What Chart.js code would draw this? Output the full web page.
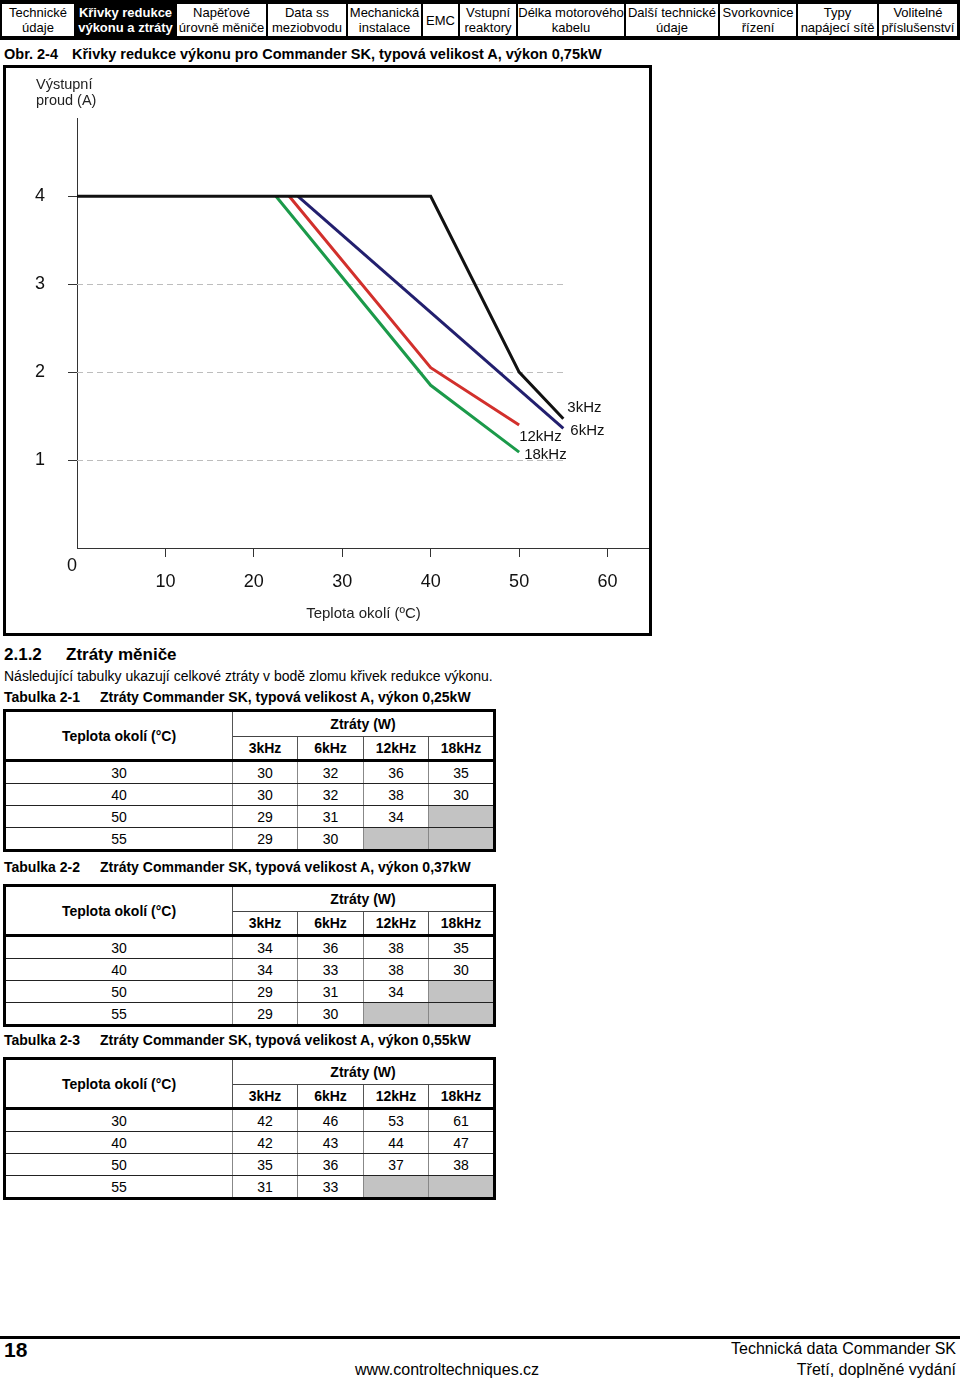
<!DOCTYPE html>
<html lang="cs">
<head>
<meta charset="UTF-8">
<title>Křivky redukce výkonu a ztráty</title>
<script src="https://cdn.jsdelivr.net/npm/chart.js"></script>
<style>
    body { margin: 0; width: 960px; height: 1382px; position: relative; overflow: hidden; background: #fff; color: #000; font-family: 'Liberation Sans', Arial, sans-serif; }
    .abs { position: absolute; white-space: nowrap; }
    .nav { position: absolute; left: 0; top: 0; width: 960px; height: 40px; background: #000; }
    .nav div { position: absolute; top: 4px; height: 32px; background: #fff; font-size: 13px; line-height: 15px; text-align: center; display: flex; align-items: center; justify-content: center; }
    .nav div.on { background: #000; color: #fff; font-weight: bold; }
    .frame { position: absolute; left: 3px; top: 65px; width: 649px; height: 571px; box-sizing: border-box; border: 3px solid #000; z-index: 2; pointer-events: none; }
    .chartbox { position: absolute; left: 0; top: 66px; width: 651px; height: 569px; z-index: 1; }
    .ytitle { position: absolute; left: 36px; top: 76px; font-size: 14.5px; line-height: 16px; color: #222; z-index: 3; }
    .cap { font-size: 14px; font-weight: bold; }
    table.loss { position: absolute; left: 3px; width: 490px; border-collapse: collapse; border: 3px solid #000; font-size: 14px; table-layout: fixed; }
    table.loss th, table.loss td { text-align: center; padding: 0; }
    table.loss th { font-weight: bold; }
    table.loss tr.h1 th { height: 24px; }
    table.loss tr.h2 th { height: 22px; border-left: 1px solid #555; border-top: 1px solid #444; border-bottom: 3px solid #000; }
    table.loss th.first { border-right: 1px solid #555; border-bottom: 3px solid #000; }
    table.loss td { height: 21px; border-bottom: 1px solid #222; }
    table.loss td + td { border-left: 1px solid #888; }
    table.loss td.na { background: #c3c3c3; }
    .footline { position: absolute; left: 0; top: 1336px; width: 960px; height: 3px; background: #000; }
    .foot { font-family: 'Liberation Sans Narrow', 'Liberation Sans', Arial, sans-serif; font-size: 16px; }
</style>
</head>
<body>

<div class="nav">
    <div style="left:2px;width:72px">Technické<br>údaje</div>
    <div class="on" style="left:76px;width:99px">Křivky redukce<br>výkonu a ztráty</div>
    <div style="left:177px;width:89px">Napěťové<br>úrovně měniče</div>
    <div style="left:268px;width:78px">Data ss<br>meziobvodu</div>
    <div style="left:348px;width:73px">Mechanická<br>instalace</div>
    <div style="left:423px;width:35px">EMC</div>
    <div style="left:460px;width:56px">Vstupní<br>reaktory</div>
    <div style="left:518px;width:106px">Délka motorového<br>kabelu</div>
    <div style="left:626px;width:92px">Další technické<br>údaje</div>
    <div style="left:720px;width:76px">Svorkovnice<br>řízení</div>
    <div style="left:798px;width:79px">Typy<br>napájecí sítě</div>
    <div style="left:879px;width:78px">Volitelné<br>příslušenství</div>
</div>

<div class="abs cap" style="left:4px;top:46px;font-size:14.5px">Obr. 2-4</div>
<div class="abs cap" style="left:72px;top:46px;font-size:14.5px">Křivky redukce výkonu pro Commander SK, typová velikost A, výkon 0,75kW</div>

<div class="frame"></div>
<div class="ytitle">Výstupní<br>proud (A)</div>
<div class="chartbox"><canvas id="graf"></canvas></div>

<div class="abs" style="left:4px;top:645px;font-size:17px;font-weight:bold">2.1.2</div>
<div class="abs" style="left:66px;top:645px;font-size:17px;font-weight:bold">Ztráty měniče</div>
<div class="abs" style="left:4px;top:668px;font-size:14px">Následující tabulky ukazují celkové ztráty v bodě zlomu křivek redukce výkonu.</div>

<div id="tabulky"></div>

<div class="footline"></div>
<div class="abs foot" style="left:4px;top:1338px;font-size:21px;font-weight:bold">18</div>
<div class="abs foot" style="right:4px;top:1340px">Technická data Commander SK</div>
<div class="abs foot" style="left:355px;top:1361px">www.controltechniques.cz</div>
<div class="abs foot" style="right:4px;top:1361px">Třetí, doplněné vydání</div>

<script>
    // osy
    const tempTicks = [0, 10, 20, 30, 40, 50, 60];
    const currentTicks = [1, 2, 3, 4];
    const gridValues = [1, 2, 3];
    const freqLabels = ['3kHz', '6kHz', '12kHz', '18kHz'];

    // krivky redukce (teplota °C -> proud A)
    const temp3k = [0, 40, 50, 55];
    const amp3k = [4, 4, 2, 1.47];
    const temp6k = [25, 55];
    const amp6k = [4, 1.36];
    const temp12k = [24, 40, 50];
    const amp12k = [4, 2.05, 1.4];
    const temp18k = [22.5, 40, 50];
    const amp18k = [4, 1.85, 1.09];

    // tabulky ztrat
    const tableTemps = [30, 40, 50, 55];
    const tableFreqs = ['3kHz', '6kHz', '12kHz', '18kHz'];
    const loss025 = [[30, 32, 36, 35], [30, 32, 38, 30], [29, 31, 34, null], [29, 30, null, null]];
    const loss037 = [[34, 36, 38, 35], [34, 33, 38, 30], [29, 31, 34, null], [29, 30, null, null]];
    const loss055 = [[42, 46, 53, 61], [42, 43, 44, 47], [35, 36, 37, 38], [31, 33, null, null]];

    const colors = ['#111111', '#221f6e', '#d2302c', '#1b9a4a'];
    const labelOffsets = [[4, -11], [7, 2], [0, 12], [5, 3]];

    function points(xs, ys) {
        return xs.map(function (v, i) { return { x: v, y: ys[i] }; });
    }

    const extras = {
        id: 'extras',
        beforeDatasetsDraw(chart) {
            const { ctx, chartArea } = chart;
            const x = chart.scales.x, y = chart.scales.y;
            ctx.save();
            ctx.strokeStyle = '#bdbdbd';
            ctx.lineWidth = 1;
            ctx.setLineDash([6, 4]);
            gridValues.forEach(function (v) {
                const py = Math.round(y.getPixelForValue(v)) + 0.5;
                ctx.beginPath();
                ctx.moveTo(chartArea.left, py);
                ctx.lineTo(x.getPixelForValue(55), py);
                ctx.stroke();
            });
            ctx.restore();
        },
        afterDatasetsDraw(chart) {
            const ctx = chart.ctx;
            const x = chart.scales.x, y = chart.scales.y;
            ctx.save();
            ctx.fillStyle = '#111';
            ctx.textBaseline = 'middle';
            ctx.font = "15px 'Liberation Sans', Arial, sans-serif";
            chart.data.datasets.forEach(function (ds, i) {
                const last = ds.data[ds.data.length - 1];
                ctx.fillText(freqLabels[i], x.getPixelForValue(last.x) + labelOffsets[i][0], y.getPixelForValue(last.y) + labelOffsets[i][1]);
            });
            // nula u pocatku
            ctx.font = "18px 'Liberation Sans', Arial, sans-serif";
            ctx.textAlign = 'center';
            ctx.fillText('0', x.getPixelForValue(0) - 5, y.getPixelForValue(0) + 18);
            ctx.restore();
        }
    };

    new Chart(document.getElementById('graf'), {
        type: 'line',
        data: {
            datasets: [
                { label: freqLabels[0], data: points(temp3k, amp3k), borderColor: colors[0] },
                { label: freqLabels[1], data: points(temp6k, amp6k), borderColor: colors[1] },
                { label: freqLabels[2], data: points(temp12k, amp12k), borderColor: colors[2] },
                { label: freqLabels[3], data: points(temp18k, amp18k), borderColor: colors[3] }
            ]
        },
        options: {
            responsive: true,
            maintainAspectRatio: false,
            animation: false,
            events: [],
            layout: { padding: { top: 52, right: 1, left: 0, bottom: 0 } },
            elements: {
                line: { borderWidth: 3, tension: 0, fill: false },
                point: { radius: 0 }
            },
            plugins: {
                legend: { display: false },
                tooltip: { enabled: false }
            },
            scales: {
                x: {
                    type: 'linear',
                    min: 0,
                    max: 64.8,
                    afterBuildTicks: function (s) { s.ticks = tempTicks.map(function (v) { return { value: v }; }); },
                    afterFit: function (s) { s.height = 87; },
                    border: { color: '#333', width: 1 },
                    grid: {
                        drawOnChartArea: false,
                        tickLength: 9,
                        color: function (c) { return c.tick && c.tick.value === 0 ? 'rgba(0,0,0,0)' : '#333'; }
                    },
                    ticks: {
                        padding: 14,
                        color: '#111',
                        maxRotation: 0,
                        font: { family: "'Liberation Sans', Arial, sans-serif", size: 18 },
                        callback: function (v) { return v === 0 ? '' : v; }
                    },
                    title: {
                        display: true,
                        text: 'Teplota okolí (ºC)',
                        color: '#222',
                        font: { family: "'Liberation Sans Narrow', 'Liberation Sans', Arial, sans-serif", size: 15 },
                        padding: { top: 0, bottom: 12 }
                    }
                },
                y: {
                    type: 'linear',
                    min: 0,
                    max: 4.89,
                    afterBuildTicks: function (s) { s.ticks = currentTicks.map(function (v) { return { value: v }; }); },
                    afterFit: function (s) { s.width = 77; },
                    border: { color: '#333', width: 1 },
                    grid: { drawOnChartArea: false, tickLength: 9, color: '#333' },
                    ticks: {
                        padding: 23,
                        color: '#111',
                        font: { family: "'Liberation Sans', Arial, sans-serif", size: 18 }
                    }
                }
            }
        },
        plugins: [extras]
    });

    // tabulky
    function buildTable(top, capTop, number, power, rows) {
        const box = document.getElementById('tabulky');
        const c1 = document.createElement('div');
        c1.className = 'abs cap';
        c1.style.left = '4px'; c1.style.top = capTop + 'px';
        c1.textContent = 'Tabulka  ' + number;
        box.appendChild(c1);
        const c2 = document.createElement('div');
        c2.className = 'abs cap';
        c2.style.left = '100px'; c2.style.top = capTop + 'px';
        c2.textContent = 'Ztráty Commander SK, typová velikost A, výkon ' + power;
        box.appendChild(c2);

        let html = '<colgroup><col style="width:228px"><col style="width:65px"><col style="width:66px"><col style="width:65px"><col style="width:66px"></colgroup>';
        html += '<tr class="h1"><th class="first" rowspan="2">Teplota okolí (°C)</th><th colspan="4">Ztráty (W)</th></tr>';
        html += '<tr class="h2">' + tableFreqs.map(function (f) { return '<th>' + f + '</th>'; }).join('') + '</tr>';
        rows.forEach(function (r, i) {
            html += '<tr><td>' + tableTemps[i] + '</td>' + r.map(function (v) {
                return v === null ? '<td class="na"></td>' : '<td>' + v + '</td>';
            }).join('') + '</tr>';
        });
        const t = document.createElement('table');
        t.className = 'loss';
        t.style.top = top + 'px';
        t.innerHTML = html;
        box.appendChild(t);
    }

    buildTable(709, 689, '2-1', '0,25kW', loss025);
    buildTable(884, 859, '2-2', '0,37kW', loss037);
    buildTable(1057, 1032, '2-3', '0,55kW', loss055);
</script>
</body>
</html>
